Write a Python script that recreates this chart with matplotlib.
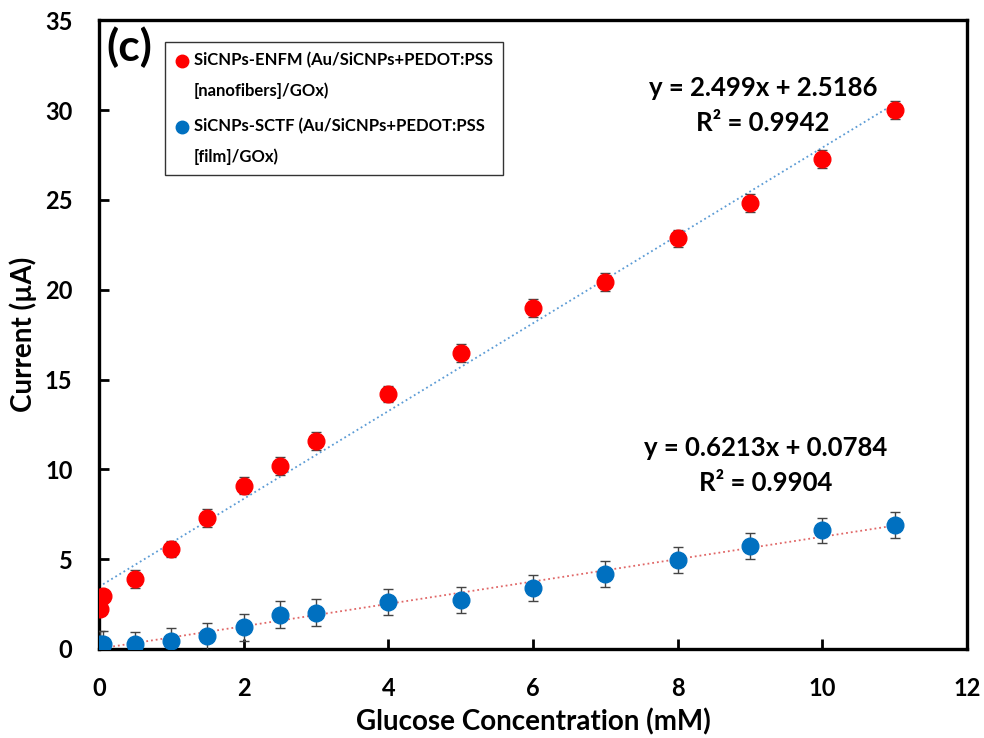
import matplotlib
matplotlib.use("Agg")
import matplotlib.pyplot as plt
from matplotlib.lines import Line2D
from matplotlib.legend_handler import HandlerLine2D
import numpy as np

plt.rcParams.update({"font.family": ["Lato", "DejaVu Sans"], "font.weight": "bold"})

# glucose concentration (mM)
conc = [0.01, 0.05, 0.5, 1, 1.5, 2, 2.5, 3, 4, 5, 6, 7, 8, 9, 10, 11]
# SiCNPs-ENFM current (uA) and error
enfm = [2.2, 2.95, 3.9, 5.55, 7.3, 9.1, 10.2, 11.6, 14.2, 16.5, 19.0, 20.45, 22.85, 24.8, 27.3, 30.0]
enfm_err = [0.3, 0.3, 0.5, 0.45, 0.5, 0.5, 0.5, 0.5, 0.45, 0.5, 0.5, 0.5, 0.5, 0.5, 0.5, 0.5]
# SiCNPs-SCTF current (uA) and error
sctf = [0.28, 0.3, 0.28, 0.47, 0.7, 1.2, 1.9, 2.02, 2.62, 2.72, 3.4, 4.17, 4.97, 5.73, 6.6, 6.92]
sctf_err = [0.7, 0.7, 0.65, 0.7, 0.75, 0.75, 0.75, 0.75, 0.7, 0.72, 0.72, 0.72, 0.72, 0.7, 0.7, 0.72]

labels = ["SiCNPs-ENFM (Au/SiCNPs+PEDOT:PSS\n[nanofibers]/GOx)",
          "SiCNPs-SCTF (Au/SiCNPs+PEDOT:PSS\n[film]/GOx)"]
eq_enfm = ("y = 2.499x + 2.5186", "R\u00b2 = 0.9942")
eq_sctf = ("y = 0.6213x + 0.0784", "R\u00b2 = 0.9904")

RED, BLUE = "#FF0000", "#0070C0"
FIT_RED, FIT_BLUE = "#5B9BD5", "#E06666"


class FirstLineHandler(HandlerLine2D):
    """Legend marker lined up with the first line of a two-line label."""
    def create_artists(self, legend, orig_handle, xdescent, ydescent, width, height, fontsize, trans):
        arts = super().create_artists(legend, orig_handle, xdescent, ydescent, width, height, fontsize, trans)
        for a in arts:
            a.set_ydata(np.asarray(a.get_ydata()) + 0.9 * fontsize)
        return arts


fig = plt.figure(figsize=(9.84, 7.38), dpi=100)
ax = fig.add_axes([0.1006, 0.1206, 0.882, 0.852])

x = np.array(conc)
xx = np.array([0, 11])
for ys, fcol in [(enfm, FIT_RED), (sctf, FIT_BLUE)]:
    k, b = np.polyfit(x, ys, 1)
    ax.plot(xx, k * xx + b, ":", color=fcol, lw=1.3, zorder=1)

for ys, err, col in [(enfm, enfm_err, RED), (sctf, sctf_err, BLUE)]:
    ax.errorbar(conc, ys, yerr=err, fmt="o", color=col, ms=12, ecolor="#444444",
                elinewidth=1, capsize=3.5, capthick=1, zorder=3)

ax.set_xlim(0, 12)
ax.set_ylim(0, 35)
ax.set_xticks(range(0, 13, 2))
ax.set_yticks(range(0, 36, 5))
for s in ax.spines.values():
    s.set_linewidth(2.4)
ax.tick_params(direction="in", length=7, width=2, labelsize=17)
ax.tick_params(axis="x", pad=20)
ax.tick_params(axis="y", pad=19)
ax.set_xlabel("Glucose Concentration (mM)", fontsize=20, fontweight="bold", labelpad=6)
ax.set_ylabel("Current (\u00b5A)", fontsize=20, fontweight="bold", labelpad=6)

ax.text(9.18, 31.2, eq_enfm[0], ha="center", va="center", fontsize=18.5, fontweight="bold")
ax.text(9.18, 29.3, eq_enfm[1], ha="center", va="center", fontsize=18.5, fontweight="bold")
ax.text(9.22, 11.2, eq_sctf[0], ha="center", va="center", fontsize=18.5, fontweight="bold")
ax.text(9.22, 9.25, eq_sctf[1], ha="center", va="center", fontsize=18.5, fontweight="bold")
ax.text(0.008, 0.99, "(c)", transform=ax.transAxes, ha="left", va="top", fontsize=32, fontweight="bold")

handles = [Line2D([], [], marker="o", ls="", color=RED, ms=9),
           Line2D([], [], marker="o", ls="", color=BLUE, ms=9)]
leg = ax.legend(handles, labels, loc="upper left", bbox_to_anchor=(0.076, 0.966), fontsize=12,
                frameon=True, fancybox=False, edgecolor="black", handlelength=0.8,
                handletextpad=0.35, borderaxespad=0, labelspacing=1.1, borderpad=0.6,
                handler_map={Line2D: FirstLineHandler()})
leg.get_frame().set_linewidth(1)
for t in leg.get_texts():
    t.set_linespacing(2.1)

fig.savefig("out.png", dpi=100)
